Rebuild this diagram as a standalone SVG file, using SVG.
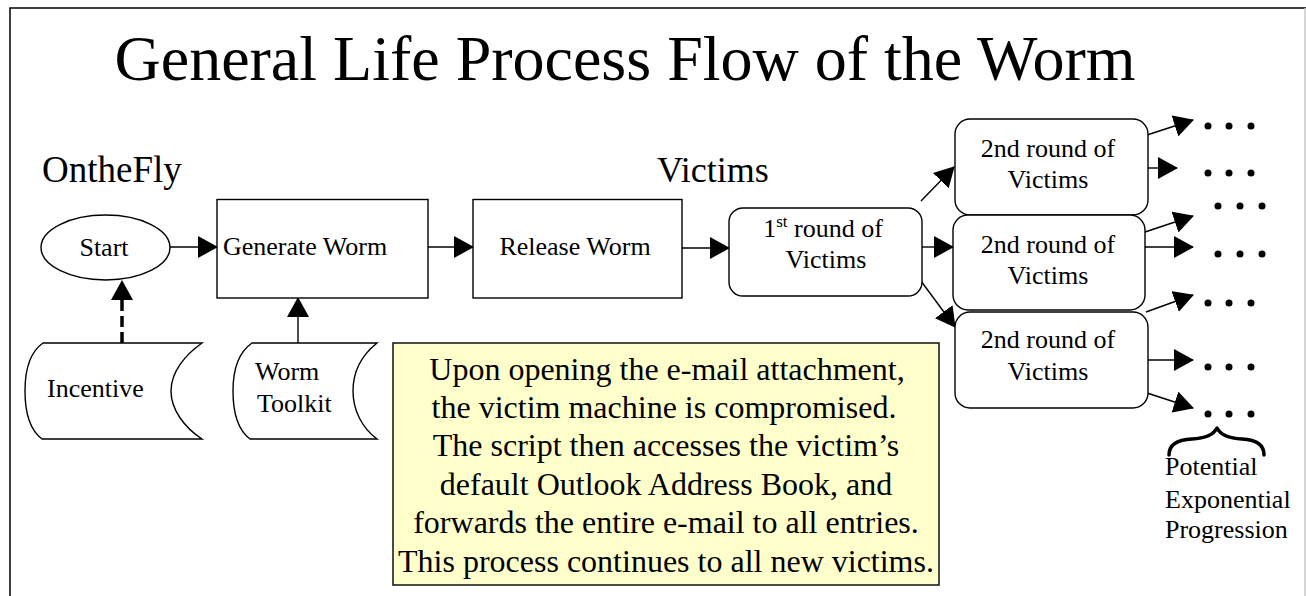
<svg xmlns="http://www.w3.org/2000/svg" width="1306" height="596" viewBox="0 0 1306 596">
<style>
  .t { font-family: "Liberation Serif", "Times New Roman", serif; fill: #000; }
  .lbl { font-size: 26px; }
  .box { fill: #fff; stroke: #000; stroke-width: 1.4; }
  .conn { stroke: #000; stroke-width: 1.4; fill: none; }
  .dash { stroke: #000; stroke-width: 3.5; fill: none; stroke-dasharray: 11 5; }
  .dot { fill: #000; }
</style>
<defs>
  <marker id="ah" markerUnits="userSpaceOnUse" markerWidth="20" markerHeight="22" viewBox="0 0 20 22" refX="19" refY="11" orient="auto">
    <path d="M0,0 L20,11 L0,22 Z" fill="#000" stroke="none"/>
  </marker>
</defs>
<rect x="0" y="0" width="1306" height="596" fill="#fff"/>
<g id="frame">
  <path d="M10,596 L10,8 L1306,8" fill="none" stroke="#000" stroke-width="1.5"/>
  <line x1="1305" y1="8" x2="1305" y2="596" stroke="#c8c8c8" stroke-width="1.5"/>
</g>
<text id="title" class="t" x="625" y="80" font-size="64" text-anchor="middle">General Life Process Flow of the Worm</text>
<text id="onthefly" class="t" x="42" y="182" font-size="37">OntheFly</text>
<text id="victims-label" class="t" x="657" y="182" font-size="36">Victims</text>

<g id="connectors">
  <line class="conn" x1="170" y1="247" x2="217" y2="247" marker-end="url(#ah)"/>
  <line class="conn" x1="428" y1="247" x2="473" y2="247" marker-end="url(#ah)"/>
  <line class="conn" x1="682" y1="248" x2="729" y2="248" marker-end="url(#ah)"/>
  <line class="conn" x1="921" y1="201" x2="954" y2="167" marker-end="url(#ah)"/>
  <line class="conn" x1="922" y1="247" x2="953" y2="247" marker-end="url(#ah)"/>
  <line class="conn" x1="921" y1="281" x2="955" y2="327" marker-end="url(#ah)"/>
  <line class="dash" x1="122" y1="343" x2="122" y2="296"/>
  <path d="M111,300 L122,280 L133,300 Z" fill="#000"/>
  <line class="conn" x1="298" y1="343" x2="298" y2="298" marker-end="url(#ah)"/>
  <line class="conn" x1="1147" y1="135" x2="1193" y2="120" marker-end="url(#ah)"/>
  <line class="conn" x1="1147" y1="168" x2="1177" y2="168" marker-end="url(#ah)"/>
  <line class="conn" x1="1145" y1="232" x2="1193" y2="216" marker-end="url(#ah)"/>
  <line class="conn" x1="1145" y1="247" x2="1193" y2="247" marker-end="url(#ah)"/>
  <line class="conn" x1="1146" y1="312" x2="1193" y2="295" marker-end="url(#ah)"/>
  <line class="conn" x1="1147" y1="360" x2="1193" y2="360" marker-end="url(#ah)"/>
  <line class="conn" x1="1147" y1="393" x2="1193" y2="408" marker-end="url(#ah)"/>
</g>

<g id="start">
  <ellipse class="box" cx="105.5" cy="247.5" rx="64.5" ry="32.5"/>
  <text class="t lbl" x="104" y="256" text-anchor="middle">Start</text>
</g>
<g id="generate-worm">
  <rect class="box" x="217" y="199.5" width="211" height="98.5"/>
  <text class="t lbl" x="223" y="255">Generate Worm</text>
</g>
<g id="release-worm">
  <rect class="box" x="473" y="199.5" width="209" height="98.5"/>
  <text class="t lbl" x="575" y="255" text-anchor="middle">Release Worm</text>
</g>
<g id="first-round">
  <rect class="box" x="729" y="208" width="193" height="88" rx="14" ry="14"/>
  <text class="t lbl" x="823" y="237" text-anchor="middle">1<tspan font-size="17" dy="-10">st</tspan><tspan dy="10"> round of</tspan></text>
  <text class="t lbl" x="826" y="268" text-anchor="middle">Victims</text>
</g>
<g id="second-round-1">
  <rect class="box" x="955" y="119" width="193" height="96" rx="15" ry="15"/>
  <text class="t lbl" x="1048" y="157" text-anchor="middle">2nd round of</text>
  <text class="t lbl" x="1048" y="188" text-anchor="middle">Victims</text>
</g>
<g id="second-round-2">
  <rect class="box" x="953" y="215" width="192" height="95" rx="15" ry="15"/>
  <text class="t lbl" x="1048" y="253" text-anchor="middle">2nd round of</text>
  <text class="t lbl" x="1048" y="284" text-anchor="middle">Victims</text>
</g>
<g id="second-round-3">
  <rect class="box" x="955" y="312" width="193" height="96" rx="15" ry="15"/>
  <text class="t lbl" x="1048" y="348" text-anchor="middle">2nd round of</text>
  <text class="t lbl" x="1048" y="380" text-anchor="middle">Victims</text>
</g>
<g id="incentive">
  <path class="box" d="M43,343 L202,343 C185,355 171,372 171,391 C171,410 185,428 202,439 L42,439 C30,430 25,412 25,391 C25,370 30,352 43,343 Z"/>
  <text class="t lbl" x="47" y="397">Incentive</text>
</g>
<g id="worm-toolkit">
  <path class="box" d="M252,343 L377,343 C362,355 353,372 353,391 C353,410 362,428 377,439 L250,439 C238,430 233,412 233,391 C233,370 239,352 252,343 Z"/>
  <text class="t lbl" x="255" y="380">Worm</text>
  <text class="t lbl" x="257" y="412">Toolkit</text>
</g>
<g id="note">
  <rect x="393" y="343" width="546" height="242" fill="#ffffcc" stroke="#000" stroke-width="1.4"/>
  <g class="t" font-size="32" text-anchor="middle">
    <text x="667" y="380">Upon opening the e-mail attachment,</text>
    <text x="664" y="418">the victim machine is compromised.</text>
    <text x="666" y="456">The script then accesses the victim’s</text>
    <text x="666" y="495">default Outlook Address Book, and</text>
    <text x="666" y="533">forwards the entire e-mail to all entries.</text>
    <text x="666" y="572">This process continues to all new victims.</text>
  </g>
</g>
<g id="dots">
  <circle class="dot" cx="1208" cy="126" r="3.5"/><circle class="dot" cx="1229" cy="126" r="3.5"/><circle class="dot" cx="1251" cy="126" r="3.5"/>
  <circle class="dot" cx="1208" cy="173" r="3.5"/><circle class="dot" cx="1229" cy="173" r="3.5"/><circle class="dot" cx="1251" cy="173" r="3.5"/>
  <circle class="dot" cx="1218" cy="206" r="3.5"/><circle class="dot" cx="1240" cy="206" r="3.5"/><circle class="dot" cx="1262" cy="206" r="3.5"/>
  <circle class="dot" cx="1218" cy="254" r="3.5"/><circle class="dot" cx="1240" cy="254" r="3.5"/><circle class="dot" cx="1262" cy="254" r="3.5"/>
  <circle class="dot" cx="1208" cy="303" r="3.5"/><circle class="dot" cx="1229" cy="303" r="3.5"/><circle class="dot" cx="1251" cy="303" r="3.5"/>
  <circle class="dot" cx="1208" cy="367" r="3.5"/><circle class="dot" cx="1229" cy="367" r="3.5"/><circle class="dot" cx="1251" cy="367" r="3.5"/>
  <circle class="dot" cx="1208" cy="414" r="3.5"/><circle class="dot" cx="1229" cy="414" r="3.5"/><circle class="dot" cx="1251" cy="414" r="3.5"/>
</g>
<g id="brace">
  <path d="M1169,455 Q1169,440 1192,439 Q1212,438 1217,428 Q1222,438 1242,439 Q1264,440 1264,455" fill="none" stroke="#000" stroke-width="3.5" stroke-linecap="round" stroke-linejoin="round"/>
</g>
<g id="progression-label" class="t lbl">
  <text x="1165" y="475">Potential</text>
  <text x="1165" y="508">Exponential</text>
  <text x="1165" y="538">Progression</text>
</g>
</svg>
